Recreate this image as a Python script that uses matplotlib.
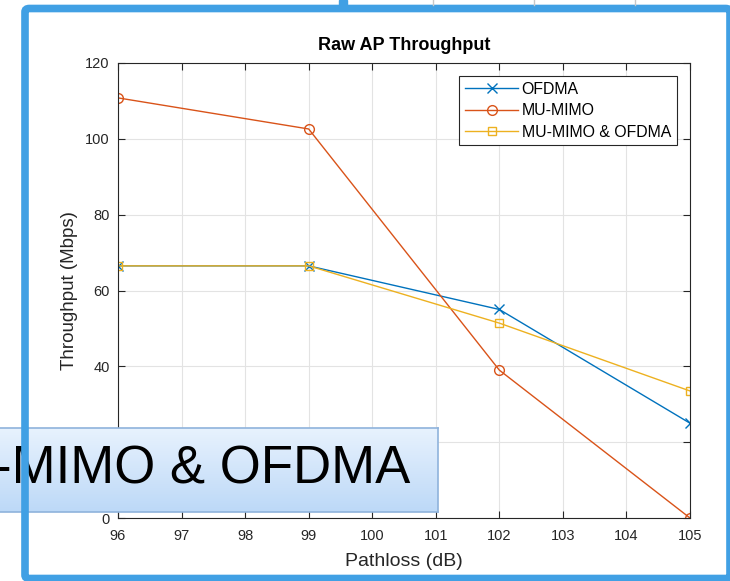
import numpy as np
import matplotlib.pyplot as plt
from matplotlib.patches import Rectangle, FancyBboxPatch

# --- data ---
pathloss = [96, 99, 102, 105]
ofdma = [66.5, 66.5, 55.0, 25.0]
mu_mimo = [110.8, 102.6, 39.0, 0.0]
mu_mimo_ofdma = [66.5, 66.5, 51.4, 33.5]

series_names = ["OFDMA", "MU-MIMO", "MU-MIMO & OFDMA"]
x_ticks = list(range(96, 106))
y_ticks = list(range(0, 121, 20))
overlay_text = "-MIMO & OFDMA"

W, H = 730, 581
plt.rcParams["font.family"] = ["Liberation Sans", "DejaVu Sans"]

fig = plt.figure(figsize=(W / 100, H / 100), dpi=100)
fig.patch.set_facecolor("white")


def fx(px):
    return px / W


def fy(py):
    return 1 - py / H


# axes box in pixel terms: left 118, right 690, top 63, bottom 518
ax = fig.add_axes([fx(118), fy(518), fx(690 - 118), (518 - 63) / H])

ax.plot(pathloss, ofdma, color="#0072BD", marker="x", ms=7, mfc="none",
        lw=1.0, label=series_names[0])
ax.plot(pathloss, mu_mimo, color="#D95319", marker="o", ms=7, mfc="none",
        lw=1.0, label=series_names[1])
ax.plot(pathloss, mu_mimo_ofdma, color="#EDB120", marker="s", ms=6, mfc="none",
        lw=1.0, label=series_names[2])

ax.set_xlim(96, 105)
ax.set_ylim(0, 120)
ax.set_xticks(x_ticks)
ax.set_yticks(y_ticks)
ax.grid(True, color="#e3e3e3", lw=0.8)
ax.set_axisbelow(True)
ax.tick_params(direction="in", length=5, width=0.8, colors="#262626",
               labelsize=10.5, top=True, right=True)
ax.tick_params(axis="y", pad=6)
ax.tick_params(axis="x", pad=8)
for s in ax.spines.values():
    s.set_color("#262626")
    s.set_linewidth(0.8)

ax.set_title("Raw AP Throughput", fontsize=13, fontweight="bold", pad=9)
ax.set_xlabel("Pathloss (dB)", fontsize=14, color="#262626", labelpad=7)
ax.set_ylabel("Throughput (Mbps)", fontsize=13.5, color="#262626", labelpad=5)

leg = ax.legend(loc="upper right", fontsize=11.4, handlelength=3.4,
                handletextpad=0.2, fancybox=False, framealpha=1,
                edgecolor="#262626", borderaxespad=0.85, labelspacing=0.4,
                borderpad=0.35)
leg.get_frame().set_linewidth(0.8)

# --- slide decorations: blue frame and bits of a chart behind it ---
for gx in [433, 534, 635]:
    fig.add_artist(plt.Line2D([fx(gx), fx(gx)], [fy(0), fy(5)],
                              color="#c8c8c8", lw=1))
fig.add_artist(Rectangle((fx(339), fy(5)), fx(8), 5 / H, color="#41A0E4",
                         transform=fig.transFigure))
fig.add_artist(FancyBboxPatch((fx(25), fy(578.5)), fx(705), 570 / H,
                              boxstyle="round,pad=0,rounding_size=0.006",
                              fill=False, ec="#41A0E4", lw=5.5,
                              transform=fig.transFigure))

# overlay caption box with a soft blue gradient
box = fig.add_axes([fx(-2), fy(512), fx(440), 84 / H])
grad = np.linspace(0, 1, 100).reshape(-1, 1)
top_c = np.array([0.91, 0.95, 0.995])
bot_c = np.array([0.74, 0.85, 0.97])
img = top_c + (bot_c - top_c) * grad[:, :, None]
img = np.repeat(img, 2, axis=1)
box.imshow(img, aspect="auto", extent=[0, 1, 0, 1])
box.set_xlim(0, 1)
box.set_ylim(0, 1)
box.set_xticks([])
box.set_yticks([])
for s in box.spines.values():
    s.set_color("#8fb3dc")
    s.set_linewidth(1.2)
box.text(-0.008, 0.5, overlay_text, fontsize=38, color="black",
         va="center", ha="left", family="Liberation Sans")

fig.savefig("out.png", dpi=100)
